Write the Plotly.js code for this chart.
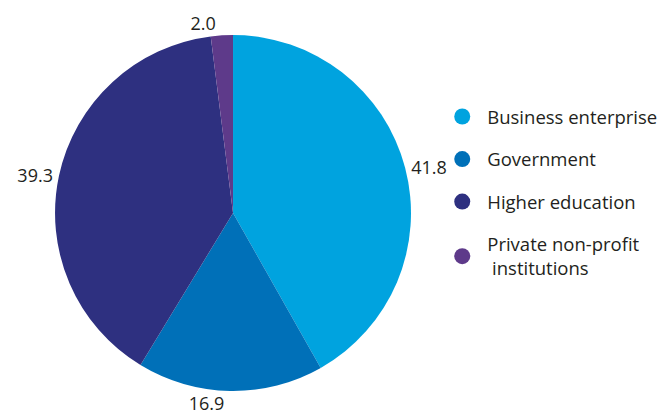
<!DOCTYPE html>
<html><head><meta charset="utf-8">
<script src="https://cdn.plot.ly/plotly-3.0.1.min.js"></script>
<style>html,body{margin:0;padding:0;background:#fff}#chart{width:659px;height:417px}</style>
</head><body><div id="chart"></div>
<script>
const categories = ["Business enterprise", "Government", "Higher education", "Private non-profit<br>\u00a0institutions"];
const values = [41.8, 16.9, 39.3, 2.0];
const colors = ["#00A3DF", "#0070B8", "#2E3080", "#5E3A8A"];

const pie = {
  type: "pie",
  labels: categories,
  values: values,
  sort: false,
  direction: "clockwise",
  rotation: 0,
  marker: {colors: colors, line: {width: 0}},
  textposition: "outside",
  texttemplate: "%{value:.1f}",
  outsidetextfont: {color: "#231f20", size: 18},
  showlegend: false,
  hoverinfo: "label+value",
  domain: {x: [0.0835, 0.6237], y: [0.0624, 0.916]}
};
const legendTraces = categories.map((c, i) => ({
  type: "scatter", mode: "markers", x: [null], y: [null],
  name: c, legendgroup: "g" + i,
  marker: {color: colors[i], size: 17, symbol: "circle"},
  showlegend: true, hoverinfo: "skip"
}));

const layout = {
  width: 659, height: 417,
  margin: {l: 0, r: 0, t: 0, b: 0, autoexpand: false},
  paper_bgcolor: "#fff", plot_bgcolor: "rgba(0,0,0,0)",
  font: {family: "Open Sans, sans-serif", size: 18, color: "#231f20"},
  xaxis: {visible: false}, yaxis: {visible: false},
  showlegend: true,
  legend: {x: 0.6635, y: 0.765, xanchor: "left", yanchor: "top", tracegroupgap: 15.5, itemwidth: 40,
    font: {size: 18.5, color: "#231f20"}, bgcolor: "rgba(0,0,0,0)"}
};
Plotly.newPlot("chart", [pie].concat(legendTraces), layout, {displayModeBar: false, staticPlot: true});
</script></body></html>
